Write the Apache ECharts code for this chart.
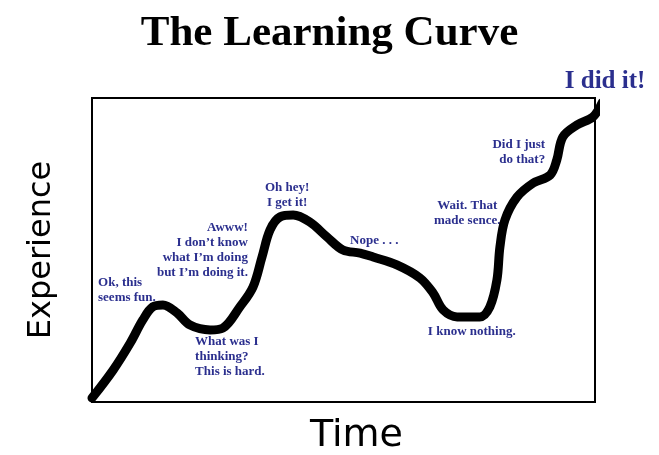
<!DOCTYPE html>
<html>
<head>
<meta charset="utf-8">
<style>
  html, body { margin: 0; padding: 0; background: #fff; }
  #chart { width: 659px; height: 455px; }
</style>
</head>
<body>
<div id="chart"></div>
<script src="https://cdn.jsdelivr.net/npm/echarts@6/dist/echarts.min.js"></script>
<script>
// curve (time 0-100, experience 0-100)
var timeVals = [0, 4.2, 7.6, 10.1, 12.1, 14.1, 16.9, 19.5, 23.5, 26.0, 29.4, 32.0, 33.8, 35.4, 37.4, 40.0,
  43.3, 46.7, 49.9, 53.3, 55.9, 60.6, 65.2, 67.8, 69.8, 72.6, 77.1, 79.1, 80.5, 81.1, 82.1, 84.5,
  87.7, 91.1, 92.4, 93.6, 96.4, 99.6, 101.4];
var expVals = [1.3, 10.5, 19.4, 27.0, 31.3, 31.9, 29.3, 25.3, 23.7, 24.3, 31.3, 37.8, 47.7, 56.6, 60.9, 61.5,
  59.2, 54.3, 50.0, 49.0, 47.7, 45.1, 40.8, 35.9, 30.3, 28.0, 28.0, 31.3, 40.1, 51.0, 59.9, 67.4,
  72.0, 74.7, 79.6, 87.2, 91.1, 93.8, 98.4];

// notes along the curve
var noteText = ['Ok, this\nseems fun.', 'Awww!\nI don\u2019t know\nwhat I\u2019m doing\nbut I\u2019m doing it.',
  'Oh hey!\nI get it!', 'What was I\nthinking?\nThis is hard.', 'Nope . . .', 'I know nothing.',
  'Wait. That\nmade sence.', 'Did I just\ndo that?', 'I did it!'];
var noteX = [1.2, 31.0, 38.8, 20.5, 51.3, 75.5, 74.6, 90.1, 102.0];
var noteY = [36.8, 50.0, 67.9, 14.8, 53.0, 23.0, 62.0, 82.1, 105.3];
var noteAlign = ['left', 'right', 'center', 'left', 'left', 'center', 'center', 'right', 'center'];

var blue = '#2b2f8e';
var curve = timeVals.map(function (t, i) { return [t, expVals[i]]; });
var notes = noteText.map(function (s, i) {
  var big = (i === noteText.length - 1);
  return {
    value: [noteX[i], noteY[i]],
    label: {
      formatter: s,
      align: noteAlign[i],
      fontSize: big ? 25 : 13,
      lineHeight: big ? 28 : 15
    }
  };
});

var chart = echarts.init(document.getElementById('chart'));
chart.setOption({
  animation: false,
  title: {
    text: 'The Learning Curve',
    left: 'center',
    top: 7,
    textStyle: { fontFamily: 'Liberation Serif', fontWeight: 'bold', fontSize: 43, color: '#000' }
  },
  grid: {
    left: 92, right: 64, top: 98, bottom: 53,
    outerBoundsMode: 'none', containLabel: false,
    show: true, borderColor: '#000', borderWidth: 2, backgroundColor: 'transparent'
  },
  xAxis: {
    type: 'value', min: 0, max: 100,
    name: 'Time', nameLocation: 'middle', nameGap: 15,
    nameTextStyle: { fontFamily: 'DejaVu Sans', fontSize: 38, color: '#000', padding: [0, 0, 0, 26] },
    axisLine: { show: false }, axisTick: { show: false }, axisLabel: { show: false }, splitLine: { show: false }
  },
  yAxis: {
    type: 'value', min: 0, max: 100,
    name: 'Experience', nameLocation: 'middle', nameGap: 34,
    nameTextStyle: { fontFamily: 'DejaVu Sans', fontSize: 32, color: '#000' },
    axisLine: { show: false }, axisTick: { show: false }, axisLabel: { show: false }, splitLine: { show: false }
  },
  series: [
    {
      type: 'line',
      data: curve,
      smooth: 0.35,
      symbol: 'none',
      clip: false,
      lineStyle: { color: '#000', width: 9, cap: 'round', join: 'round' }
    },
    {
      type: 'scatter',
      data: notes,
      symbolSize: 0,
      clip: false,
      silent: true,
      itemStyle: { opacity: 1 },
      label: {
        show: true,
        position: 'inside',
        verticalAlign: 'middle',
        color: blue,
        opacity: 1,
        fontFamily: 'Liberation Serif',
        fontWeight: 'bold'
      }
    }
  ]
});
</script>
</body>
</html>
